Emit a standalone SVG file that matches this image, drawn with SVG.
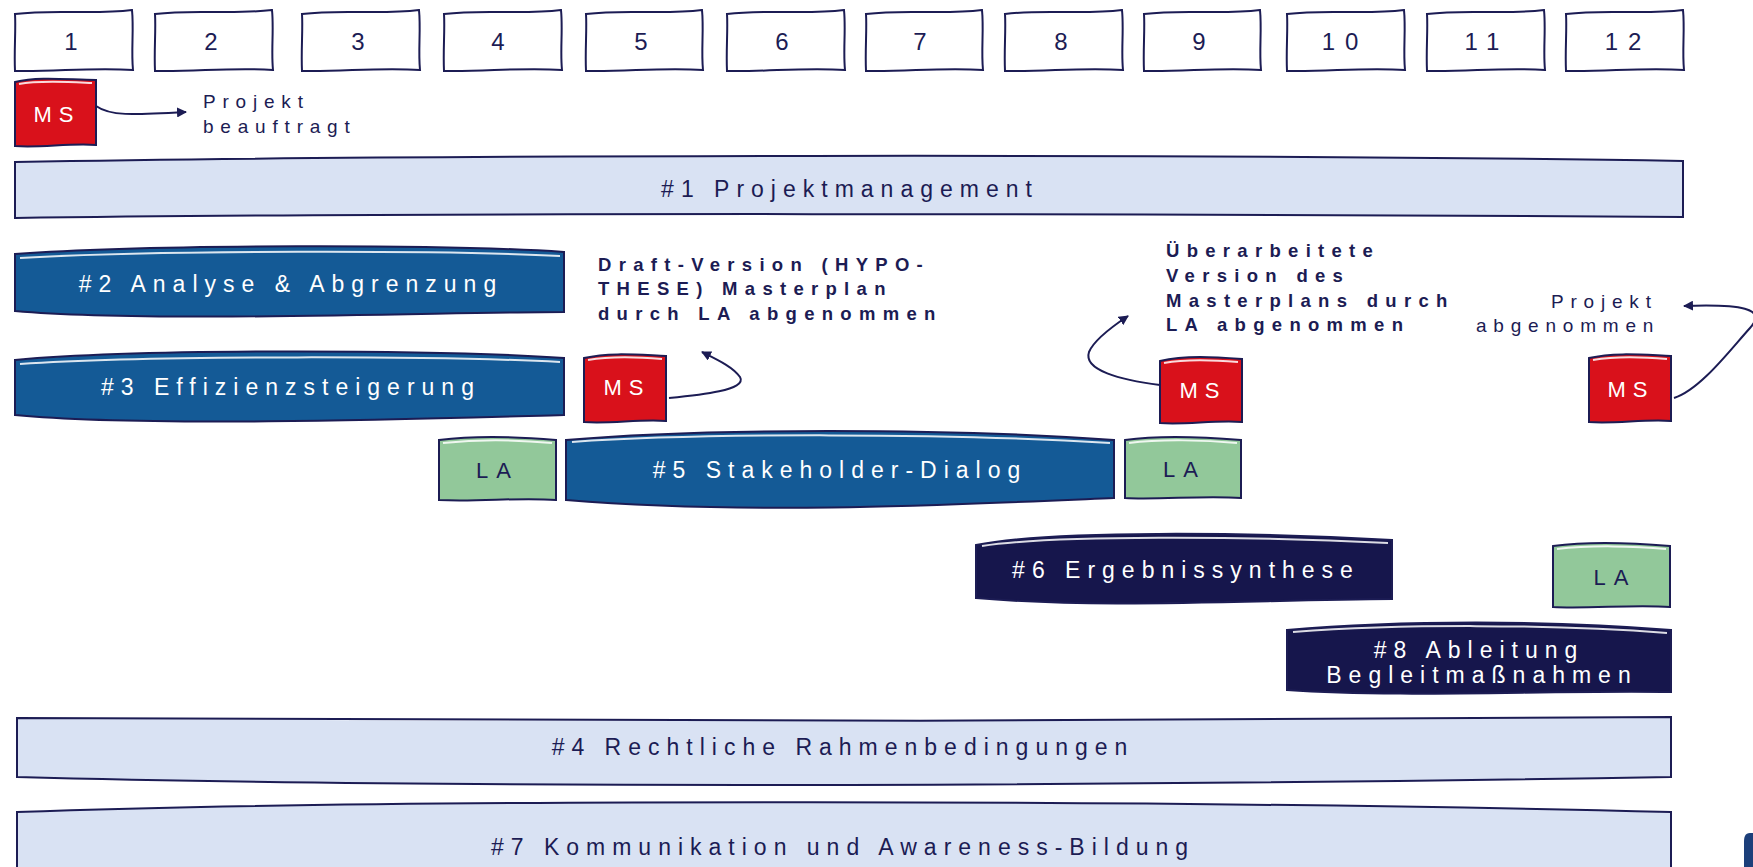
<svg xmlns="http://www.w3.org/2000/svg" width="1753" height="867" viewBox="0 0 1753 867">
<defs>
<marker id="ah" viewBox="0 0 10 10" refX="9" refY="5" markerWidth="10" markerHeight="10" markerUnits="userSpaceOnUse" orient="auto">
<path d="M0,0 L10,5 L0,10 Z" fill="#1c1c54"/>
</marker>
<style>
text{font-family:"Liberation Sans",Arial,sans-serif}
.month path{fill:#fff;stroke:#1c1c54;stroke-width:2}
.month text{font-size:24px;fill:#1c1c54;text-anchor:middle;letter-spacing:10px}
.ms path.b{fill:#d9111b;stroke:#1c1c54;stroke-width:2}
.hl{fill:none;stroke:#fff;stroke-width:2;opacity:.85}
.ms text{font-size:22px;fill:#fff;text-anchor:middle;letter-spacing:7px}
.la path.b{fill:#92c89a;stroke:#1c1c54;stroke-width:2}
.la text{font-size:22px;fill:#1c1c54;letter-spacing:8px}
.light path{fill:#d9e2f3;stroke:#1c1c54;stroke-width:2}
.blue path.b{fill:#145a96;stroke:#1c1c54;stroke-width:2}
.navy path.b{fill:#16164c;stroke:#1c1c54;stroke-width:2}
.lbl{font-size:23px;text-anchor:middle;letter-spacing:7px}
.dk{fill:#1c1c54}
.wt{fill:#fff}
.ann{font-size:18.5px;font-weight:bold;fill:#1c1c54;letter-spacing:7.3px}
.note{font-size:19px;fill:#1c1c54;letter-spacing:6.8px}
.conn path{fill:none;stroke:#1c1c54;stroke-width:2;marker-end:url(#ah)}
</style>
</defs>
<rect width="1753" height="867" fill="#fff"/>

<!-- month boxes -->
<g id="m1" class="month"><path d="M15,14 C55,9 92,15 132,10 C134,30 131,50 133,70 C92,67 55,72 15,71 C14,50 16,30 15,14 Z"/><text x="76" y="50">1</text></g>
<g id="m2" class="month"><path d="M155,14 C195,9 232,15 272,10 C274,30 271,50 273,70 C232,67 195,72 155,71 C154,50 156,30 155,14 Z"/><text x="216" y="50">2</text></g>
<g id="m3" class="month"><path d="M302,14 C342,9 379,15 419,10 C421,30 418,50 420,70 C379,67 342,72 302,71 C301,50 303,30 302,14 Z"/><text x="363" y="50">3</text></g>
<g id="m4" class="month"><path d="M444,14 C484,9 521,15 561,10 C563,30 560,50 562,70 C521,67 484,72 444,71 C443,50 445,30 444,14 Z"/><text x="503" y="50">4</text></g>
<g id="m5" class="month"><path d="M586,14 C626,9 662,15 702,10 C704,30 701,50 703,70 C662,67 626,72 586,71 C585,50 587,30 586,14 Z"/><text x="646" y="50">5</text></g>
<g id="m6" class="month"><path d="M727,14 C767,9 804,15 844,10 C846,30 843,50 845,70 C804,67 767,72 727,71 C726,50 728,30 727,14 Z"/><text x="787" y="50">6</text></g>
<g id="m7" class="month"><path d="M866,14 C906,9 942,15 982,10 C984,30 981,50 983,70 C942,67 906,72 866,71 C865,50 867,30 866,14 Z"/><text x="925" y="50">7</text></g>
<g id="m8" class="month"><path d="M1005,14 C1045,9 1082,15 1122,10 C1124,30 1121,50 1123,70 C1082,67 1045,72 1005,71 C1004,50 1006,30 1005,14 Z"/><text x="1066" y="50">8</text></g>
<g id="m9" class="month"><path d="M1144,14 C1184,9 1220,15 1260,10 C1262,30 1259,50 1261,70 C1220,67 1184,72 1144,71 C1143,50 1145,30 1144,14 Z"/><text x="1204" y="50">9</text></g>
<g id="m10" class="month"><path d="M1287,14 C1327,9 1364,15 1404,10 C1406,30 1403,50 1405,70 C1364,67 1327,72 1287,71 C1286,50 1288,30 1287,14 Z"/><text x="1345" y="50">10</text></g>
<g id="m11" class="month"><path d="M1427,14 C1467,9 1504,15 1544,10 C1546,30 1543,50 1545,70 C1504,67 1467,72 1427,71 C1426,50 1428,30 1427,14 Z"/><text x="1487" y="50">11</text></g>
<g id="m12" class="month"><path d="M1566,14 C1606,9 1643,15 1683,10 C1685,30 1682,50 1684,70 C1643,67 1606,72 1566,71 C1565,50 1567,30 1566,14 Z"/><text x="1628" y="50">12</text></g>

<!-- milestone 1 -->
<g id="ms1" class="ms"><path class="b" d="M15,82 C40,76 70,80 96,80 L96,145 C70,143 40,148 15,146 Z"/><path class="hl" d="M19,84 C40,80 70,82 92,83"/><text x="57" y="122">MS</text></g>
<g id="note1"><text class="note" x="203" y="108">Projekt</text><text class="note" x="203" y="133">beauftragt</text></g>

<!-- #1 -->
<g id="p1" class="light"><path d="M15,162 C400,155 1200,153 1683,161 L1683,217 C1200,214 400,212 15,218 Z"/><text class="lbl dk" x="850" y="197">#1 Projektmanagement</text></g>

<!-- #2 -->
<g id="p2" class="blue"><path class="b" d="M15,254 C150,244 450,244 564,252 L564,312 C450,312 150,323 15,311 Z"/><path class="hl" d="M20,258 C150,250 450,250 560,256"/><text class="lbl wt" x="291" y="292">#2 Analyse &amp; Abgrenzung</text></g>

<!-- #3 -->
<g id="p3" class="blue"><path class="b" d="M15,360 C150,348 450,350 564,358 L564,415 C450,418 150,428 15,415 Z"/><path class="hl" d="M20,364 C150,355 450,356 560,362"/><text class="lbl wt" x="291" y="395">#3 Effizienzsteigerung</text></g>

<!-- Draft annotation -->
<g id="note2"><text class="ann" x="598" y="271">Draft-Version (HYPO-</text><text class="ann" x="598" y="295">THESE) Masterplan</text><text class="ann" x="598" y="320">durch LA abgenommen</text></g>

<!-- MS2 -->
<g id="ms2" class="ms"><path class="b" d="M584,358 C610,352 640,355 666,356 L666,421 C640,419 610,424 584,422 Z"/><path class="hl" d="M588,360 C610,356 640,357 662,359"/><text x="627" y="395">MS</text></g>

<!-- LA1 -->
<g id="la1" class="la"><path class="b" d="M439,440 C480,435 520,437 556,440 L556,500 C520,497 480,502 439,500 Z"/><path class="hl" d="M443,443 C480,439 520,440 552,443"/><text x="476" y="478">LA</text></g>

<!-- #5 -->
<g id="p5" class="blue"><path class="b" d="M566,440 C700,428 950,428 1114,440 L1114,498 C950,505 750,515 566,500 Z"/><path class="hl" d="M572,442 C700,433 950,433 1110,443"/><text class="lbl wt" x="840" y="478">#5  Stakeholder-Dialog</text></g>

<!-- Überarbeitete annotation -->
<g id="note3"><text class="ann" x="1166" y="257">Überarbeitete</text><text class="ann" x="1166" y="282">Version des</text><text class="ann" x="1166" y="307">Masterplans durch</text><text class="ann" x="1166" y="331">LA abgenommen</text></g>

<!-- MS3 -->
<g id="ms3" class="ms"><path class="b" d="M1160,361 C1185,355 1215,357 1242,359 L1242,422 C1215,420 1185,425 1160,423 Z"/><path class="hl" d="M1164,363 C1185,359 1215,360 1238,362"/><text x="1203" y="398">MS</text></g>

<!-- LA2 -->
<g id="la2" class="la"><path class="b" d="M1125,440 C1160,435 1205,437 1241,440 L1241,498 C1205,495 1160,500 1125,498 Z"/><path class="hl" d="M1129,443 C1160,439 1205,440 1237,443"/><text x="1163" y="477">LA</text></g>

<!-- Projekt abgenommen -->
<g id="note4"><text class="note" x="1551" y="308">Projekt</text><text class="note" x="1476" y="332">abgenommen</text></g>

<!-- MS4 -->
<g id="ms4" class="ms"><path class="b" d="M1589,358 C1615,352 1645,355 1671,356 L1671,421 C1645,419 1615,424 1589,422 Z"/><path class="hl" d="M1593,360 C1615,356 1645,357 1667,359"/><text x="1631" y="397">MS</text></g>

<!-- #6 -->
<g id="p6" class="navy"><path class="b" d="M976,545 C1050,530 1250,532 1392,540 L1392,599 C1250,600 1100,609 976,598 Z"/><path class="hl" d="M982,546 C1050,535 1250,536 1388,543"/><text class="lbl wt" x="1186" y="578">#6 Ergebnissynthese</text></g>

<!-- LA3 -->
<g id="la3" class="la"><path class="b" d="M1553,546 C1590,541 1635,543 1670,546 L1670,607 C1635,604 1590,609 1553,607 Z"/><path class="hl" d="M1557,549 C1590,545 1635,546 1666,549"/><text x="1615" y="585" text-anchor="middle">LA</text></g>

<!-- #8 -->
<g id="p8" class="navy"><path class="b" d="M1287,630 C1400,620 1550,620 1671,630 L1671,692 C1550,690 1400,698 1287,690 Z"/><path class="hl" d="M1293,632 C1400,624 1550,624 1667,633"/><text class="lbl wt" x="1479" y="658">#8 Ableitung</text><text class="lbl wt" x="1482" y="683">Begleitmaßnahmen</text></g>

<!-- #4 -->
<g id="p4" class="light"><path d="M17,718 C400,722 1200,722 1671,717 L1671,777 C1200,785 500,790 17,777 Z"/><text class="lbl dk" x="843" y="755">#4 Rechtliche Rahmenbedingungen</text></g>

<!-- #7 -->
<g id="p7" class="light"><path d="M17,812 C400,798 1200,800 1671,812 L1671,880 L17,880 Z"/><text class="lbl dk" x="843" y="855">#7 Kommunikation und Awareness-Bildung</text></g>

<path d="M1753,833 L1750,833 C1745,833 1744,837 1744,842 L1744,867 L1753,867 Z" fill="#1c3f7a"/>

<!-- connectors -->
<g id="connectors" class="conn">
<path d="M96,106 C110,116 130,115 186,112"/>
<path d="M669,398 C700,395 748,390 740,377 C733,367 718,360 702,352"/>
<path d="M1160,385 C1120,380 1083,370 1089,352 C1094,340 1110,328 1128,316"/>
<path d="M1674,398 C1700,390 1730,350 1750,328 C1768,308 1740,304 1684,306"/>
</g>
</svg>
